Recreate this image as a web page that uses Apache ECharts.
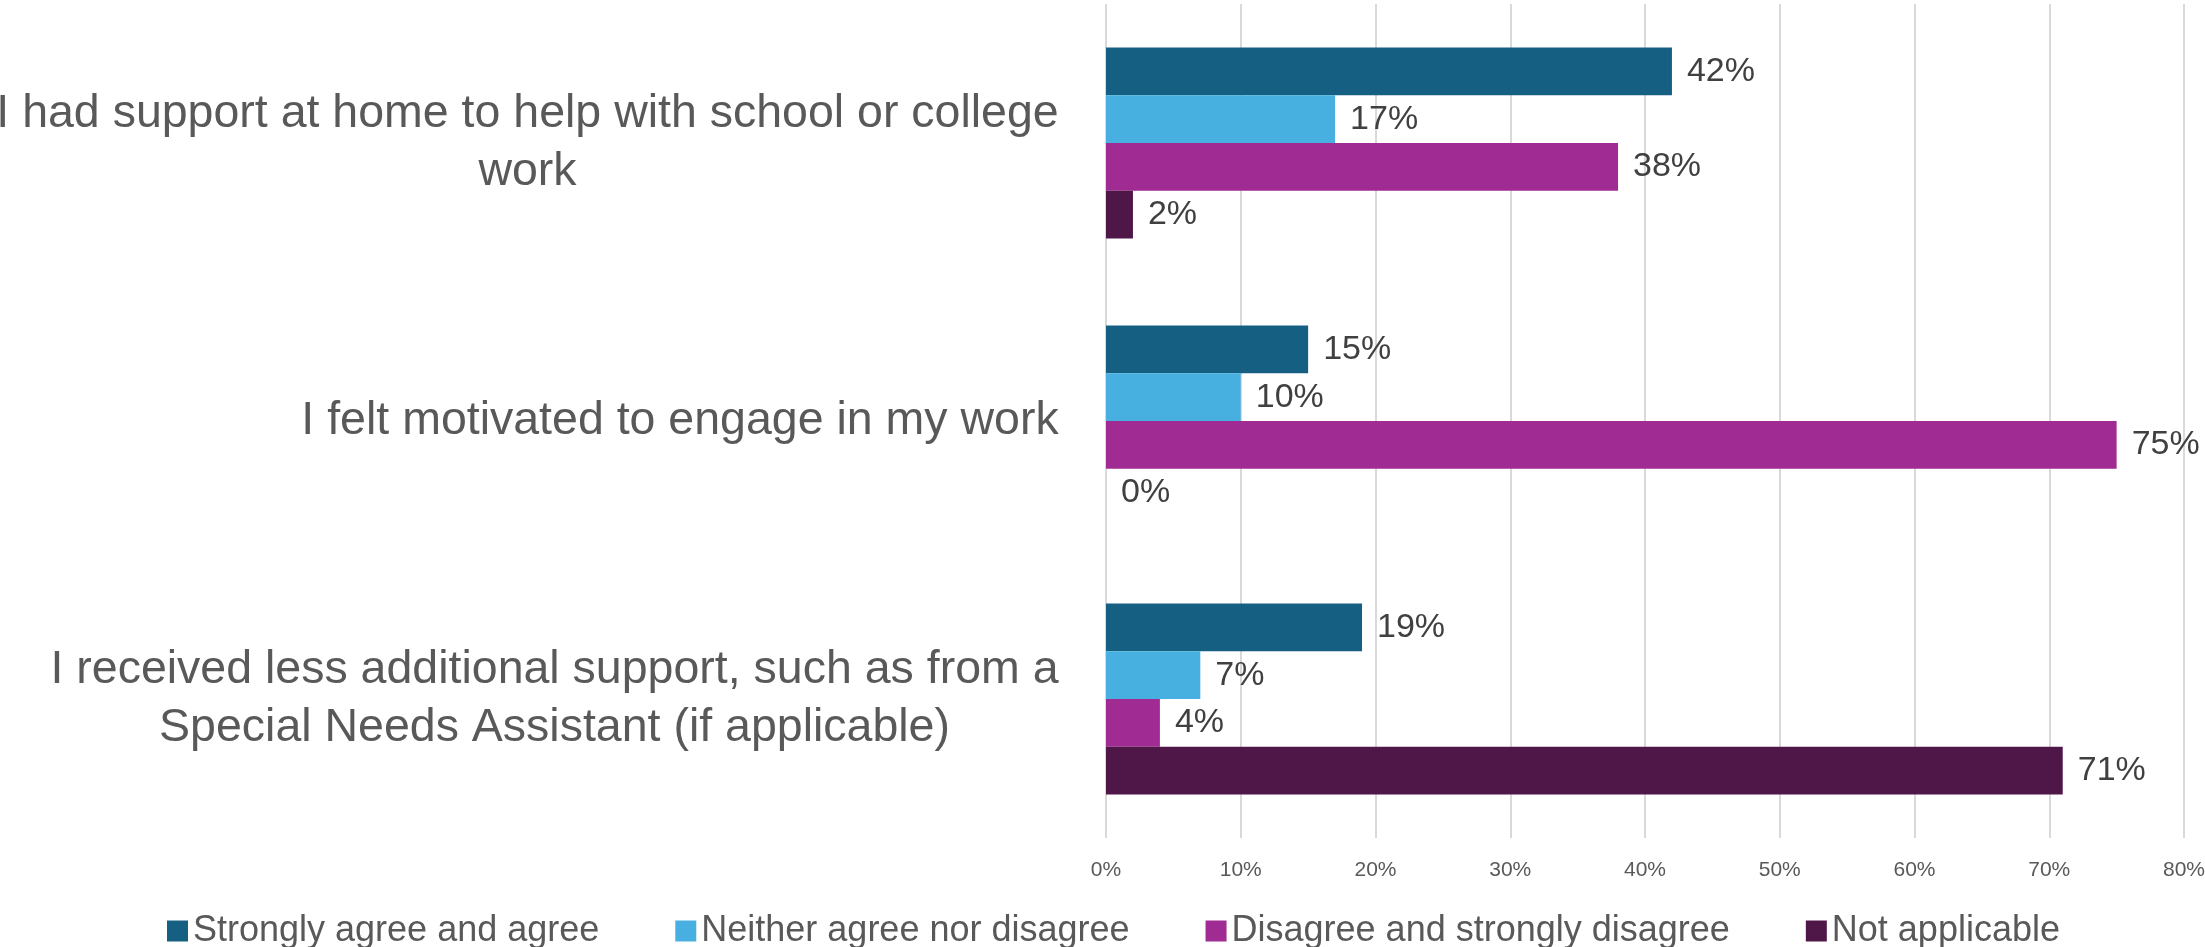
<!DOCTYPE html>
<html>
<head>
<meta charset="utf-8">
<title>Support and motivation survey</title>
<script src="https://cdn.jsdelivr.net/npm/echarts@6/dist/echarts.min.js"></script>
<style>
  html, body { margin: 0; padding: 0; background: #ffffff; }
  #chart { width: 2205px; height: 947px; }
</style>
</head>
<body>
<div id="chart"></div>
<script>
// Survey statements (top to bottom)
const categories = [
  'I had support at home to help with school or college\nwork',
  'I felt motivated to engage in my work',
  'I received less additional support, such as from a\nSpecial Needs Assistant (if applicable)'
];

// Response shares, percent
const stronglyAgree = [42, 15, 19];
const neither = [17, 10, 7];
const disagree = [38, 75, 4];
const notApplicable = [2, 0, 71];

const seriesNames = [
  'Strongly agree and agree',
  'Neither agree nor disagree',
  'Disagree and strongly disagree',
  'Not applicable'
];
const seriesValues = [stronglyAgree, neither, disagree, notApplicable];
const seriesColors = ['#156082', '#47B0E0', '#A02B93', '#4F1748'];

const axisTicks = [0, 10, 20, 30, 40, 50, 60, 70, 80];

const bodyFont = "'Liberation Sans', 'Noto Sans', sans-serif";
const catFontSize = 46.5;

// Category labels: lines centred on each other, block right-aligned to the axis.
// Each label gets a rich style whose width is its widest line.
const measureCtx = document.createElement('canvas').getContext('2d');
measureCtx.font = catFontSize + 'px ' + bodyFont;
const catRich = {};
categories.forEach((c, i) => {
  const w = Math.max(...c.split('\n').map(l => measureCtx.measureText(l).width));
  catRich['c' + i] = {
    width: Math.ceil(w) + 2,
    align: 'center',
    color: '#595959',
    fontFamily: bodyFont,
    fontSize: catFontSize,
    lineHeight: 58
  };
});

const chart = echarts.init(document.getElementById('chart'));

chart.setOption({
  animation: false,
  backgroundColor: '#ffffff',
  grid: {
    left: 1106, right: 21, top: 4, bottom: 109,
    containLabel: false,
    outerBoundsMode: 'none'
  },
  xAxis: {
    type: 'value',
    min: axisTicks[0],
    max: axisTicks[axisTicks.length - 1],
    interval: 10,
    axisLine: { show: false },
    axisTick: { show: false },
    splitLine: { show: true, lineStyle: { color: '#d9d9d9', width: 2 } },
    axisLabel: {
      formatter: v => v + '%',
      color: '#595959',
      fontFamily: bodyFont,
      fontSize: 21,
      margin: 22
    }
  },
  yAxis: {
    type: 'category',
    inverse: true,
    data: categories,
    axisLine: { show: false },
    axisTick: { show: false },
    axisLabel: {
      align: 'right',
      margin: 46,
      formatter: (v, i) => v.split('\n').map(l => '{c' + i + '|' + l + '}').join('\n'),
      rich: catRich
    }
  },
  legend: {
    top: 913,
    left: 167,
    padding: 0,
    icon: 'rect',
    itemWidth: 21,
    itemHeight: 21,
    itemGap: 76,
    itemTextGap: 11,
    textStyle: { color: '#595959', fontFamily: bodyFont, fontSize: 36 },
    data: seriesNames
  },
  series: seriesNames.map((name, i) => ({
    name: name,
    type: 'bar',
    data: seriesValues[i],
    barWidth: 47.7,
    barGap: '0%',
    itemStyle: { color: seriesColors[i] },
    label: {
      show: true,
      position: 'right',
      distance: 15,
      formatter: p => p.value + '%',
      color: '#404040',
      fontFamily: bodyFont,
      fontSize: 34
    }
  }))
});
</script>
</body>
</html>
